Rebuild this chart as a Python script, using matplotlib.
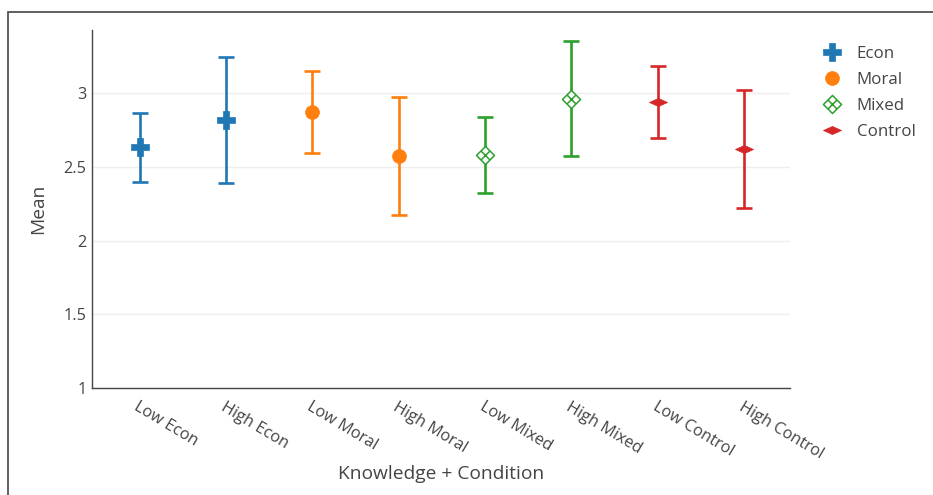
import matplotlib
matplotlib.use("Agg")
import matplotlib.pyplot as plt
from matplotlib.path import Path
from matplotlib.lines import Line2D
from matplotlib.patches import Rectangle

plt.rcParams['font.family'] = ['Open Sans', 'DejaVu Sans']

categories = ["Low Econ", "High Econ", "Low Moral", "High Moral",
              "Low Mixed", "High Mixed", "Low Control", "High Control"]
groups = ["Econ", "Moral", "Mixed", "Control"]
group_of = ["Econ", "Econ", "Moral", "Moral", "Mixed", "Mixed", "Control", "Control"]
means = [2.633, 2.819, 2.875, 2.574, 2.581, 2.963, 2.941, 2.620]
errors = [0.235, 0.425, 0.278, 0.400, 0.260, 0.390, 0.243, 0.400]
yticks = [1, 1.5, 2, 2.5, 3]
ytick_labels = ["1", "1.5", "2", "2.5", "3"]

colors = {"Econ": "#1f77b4", "Moral": "#ff7f0e", "Mixed": "#2ca02c", "Control": "#d62728"}

# custom markers
dx_path = Path(
    [(0, 1), (1, 0), (0, -1), (-1, 0), (0, 1),
     (-0.5, 0.5), (0.5, -0.5), (0.5, 0.5), (-0.5, -0.5)],
    [Path.MOVETO, Path.LINETO, Path.LINETO, Path.LINETO, Path.CLOSEPOLY,
     Path.MOVETO, Path.LINETO, Path.MOVETO, Path.LINETO])
dw_path = Path([(-1, 0), (0, 0.45), (1, 0), (0, -0.45), (-1, 0)],
               [Path.MOVETO, Path.LINETO, Path.LINETO, Path.LINETO, Path.CLOSEPOLY])

mstyle = {
    "Econ": dict(marker="P", ms=13.5, mfc=colors["Econ"], mec=colors["Econ"], mew=0.5),
    "Moral": dict(marker="o", ms=10, mfc=colors["Moral"], mec=colors["Moral"], mew=0.5),
    "Mixed": dict(marker=dx_path, ms=13, mfc="white", mec=colors["Mixed"], mew=1.1),
    "Control": dict(marker=dw_path, ms=13, mfc=colors["Control"], mec=colors["Control"], mew=0.5),
}

fig = plt.figure(figsize=(9.33, 4.95), dpi=100)
ax = fig.add_axes([92/933, 1 - 388/495, (790-92)/933, (388-30)/495])

for i, (c, m, e, g) in enumerate(zip(categories, means, errors, group_of)):
    ax.errorbar(i, m, yerr=e, color=colors[g], elinewidth=1.9, capsize=5.5,
                capthick=1.9, fmt="none", zorder=3)
    ax.plot(i, m, linestyle="none", zorder=4, **mstyle[g])

ax.set_xlim(-0.55, 7.53)
ax.set_ylim(1, 3.43)
ax.set_yticks(yticks)
ax.set_yticklabels(ytick_labels)
ax.set_xticks(range(len(categories)))
ax.set_xticklabels(categories, rotation=-31, ha="left", va="top", rotation_mode="anchor")
ax.tick_params(axis="both", length=0, labelsize=11.7, labelcolor="#444444")
ax.tick_params(axis="x", pad=8)
ax.tick_params(axis="y", pad=4)
ax.grid(axis="y", color="#eeeeee", linewidth=1)
ax.set_axisbelow(True)
for s in ["top", "right"]:
    ax.spines[s].set_visible(False)
for s in ["left", "bottom"]:
    ax.spines[s].set_color("#444444")
    ax.spines[s].set_linewidth(1)

ax.set_xlabel("Knowledge + Condition", fontsize=13.8, color="#444444", labelpad=2)
ax.set_ylabel("Mean", fontsize=13.8, color="#444444", labelpad=12)

handles = [Line2D([], [], linestyle="none", **mstyle[g]) for g in groups]
leg = fig.legend(handles, groups, loc="upper left", bbox_to_anchor=(815/933, 1 - 39/495),
                 frameon=False, fontsize=12.2, labelcolor="#444444",
                 handletextpad=0.85, labelspacing=0.6, handlelength=1.2, borderaxespad=0)

fig.patches.append(Rectangle((8/933, -0.1), 1.2, 1 - 12/495 + 0.1, transform=fig.transFigure,
                             fill=False, edgecolor="#444444", linewidth=1.2))

fig.savefig("out.png", dpi=100)
